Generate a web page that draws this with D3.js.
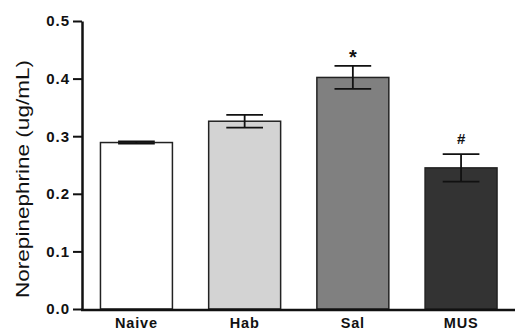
<!DOCTYPE html>
<html><head><meta charset="utf-8">
<script src="https://cdn.jsdelivr.net/npm/d3@7"></script>
<style>body{margin:0;background:#fff}svg{display:block}</style>
</head><body>
<svg id="c" width="515" height="329"></svg>
<script>
const categories = ["Naive", "Hab", "Sal", "MUS"];
const values = [0.289, 0.326, 0.402, 0.245];
const errors = [0.002, 0.011, 0.020, 0.024];
const markers = ["", "", "*", "#"];
const colors = ["#ffffff", "#d3d3d3", "#808080", "#333333"];
const yTicks = [0.0, 0.1, 0.2, 0.3, 0.4, 0.5];
const yLabel = "Norepinephrine (ug/mL)";

const svg = d3.select("#c");
const font = "Liberation Sans, Arial, Helvetica, sans-serif";
const y = d3.scaleLinear().domain([0, 0.5]).range([309, 21]);
const x = d3.scaleBand().domain(categories).range([82.5, 515]).paddingInner(0.335).paddingOuter(0.166);

// bars
svg.selectAll("rect.bar").data(categories).enter().append("rect")
  .attr("x", d => x(d)).attr("width", x.bandwidth())
  .attr("y", (d, i) => y(values[i])).attr("height", (d, i) => y(0) - y(values[i]))
  .attr("fill", (d, i) => colors[i]).attr("stroke", "#222").attr("stroke-width", 1.5);

// error bars
const cw = x.bandwidth() * 0.51;
categories.forEach((c, i) => {
  const cx = x(c) + x.bandwidth() / 2;
  const hi = y(values[i] + errors[i]), lo = y(values[i] - errors[i]);
  const g = svg.append("g").attr("stroke", "#111").attr("stroke-width", 1.8);
  g.append("line").attr("x1", cx).attr("x2", cx).attr("y1", hi).attr("y2", lo);
  g.append("line").attr("x1", cx - cw / 2).attr("x2", cx + cw / 2).attr("y1", hi).attr("y2", hi);
  g.append("line").attr("x1", cx - cw / 2).attr("x2", cx + cw / 2).attr("y1", lo).attr("y2", lo);
  if (markers[i]) {
    const isStar = markers[i] === "*";
    svg.append("text").attr("x", cx).attr("y", hi - (isStar ? 2 : 10))
      .attr("text-anchor", "middle").attr("font-family", font).attr("font-weight", "bold")
      .attr("font-size", isStar ? 20 : 15).attr("fill", "#111").text(markers[i]);
  }
});

// y axis
const yAxis = d3.axisLeft(y).tickValues(yTicks).tickFormat(d3.format(".1f")).tickSize(9).tickSizeOuter(0).tickPadding(3);
const ya = svg.append("g").attr("transform", "translate(82,0)").call(yAxis);
ya.select(".domain").attr("stroke", "#111").attr("stroke-width", 2.5);
ya.selectAll(".tick line").attr("stroke", "#111").attr("stroke-width", 2);
ya.selectAll(".tick text").attr("font-family", font).attr("font-weight", "bold")
  .attr("font-size", 15).attr("letter-spacing", "1px").attr("fill", "#111");

// x axis
const xAxis = d3.axisBottom(x).tickSize(0).tickSizeOuter(0).tickPadding(0);
const xa = svg.append("g").attr("transform", "translate(0,310)").call(xAxis);
xa.select(".domain").attr("d", "M81,0H515").attr("stroke", "#111").attr("stroke-width", 2.5);
xa.selectAll(".tick text").attr("font-family", font).attr("font-weight", "bold")
  .attr("font-size", 14.5).attr("letter-spacing", "0.8px").attr("fill", "#111")
  .attr("dy", null).attr("y", 17.5);

// y label
svg.append("text").attr("transform", "translate(29,179) rotate(-90)")
  .attr("text-anchor", "middle").attr("font-family", font).attr("font-size", 19)
  .attr("textLength", 238).attr("lengthAdjust", "spacingAndGlyphs")
  .attr("fill", "#111").text(yLabel);
</script>
</body></html>
